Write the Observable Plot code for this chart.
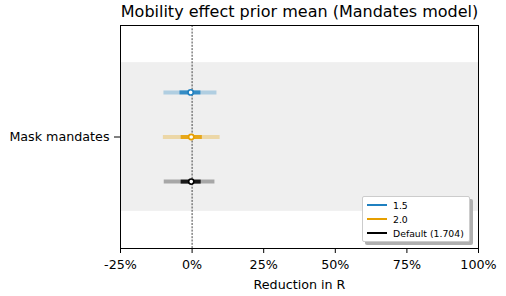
<!DOCTYPE html>
<html>
<head>
<meta charset="utf-8">
<script src="https://cdn.jsdelivr.net/npm/d3@7"></script>
<script src="https://cdn.jsdelivr.net/npm/@observablehq/plot@0.6"></script>
<style>
  html, body { margin: 0; padding: 0; background: #fff; }
  #wrap { position: relative; width: 506px; height: 296px; font-family: "DejaVu Sans", sans-serif; }
  #legend { position: absolute; left: 362px; top: 196px; width: 106px; height: 44px; background: #fff;
    border: 1px solid #ccc; border-radius: 2px; box-shadow: 3px 3px 0 #b0b0b0; font-size: 9.3px; color: #000; }
  .item { position: absolute; left: 4px; height: 12px; display: flex; align-items: center; white-space: nowrap; }
  .sw { display: inline-block; width: 20px; height: 1.5px; margin-right: 6px; }
</style>
</head>
<body>
<div id="wrap"><div id="legend"></div></div>
<script>
const title = "Mobility effect prior mean (Mandates model)";
const categories = ["Mask mandates"];
const series = ["1.5", "2.0", "Default (1.704)"];
const colors = ["#1f80c0", "#e69f00", "#000000"];
const medians = [-0.5, -0.3, -0.3];
const inner_lo = [-4.4, -4.0, -4.0];
const inner_hi = [2.9, 3.4, 3.0];
const outer_lo = [-10.0, -10.2, -9.9];
const outer_hi = [8.5, 9.6, 7.8];
const xTicks = [-25, 0, 25, 50, 75, 100];
const xLabel = "Reduction in R";

const rows = series.map((s, i) => ({
  s, c: colors[i], y: (i - 1) * 0.3,
  med: medians[i], ilo: inner_lo[i], ihi: inner_hi[i], olo: outer_lo[i], ohi: outer_hi[i]
}));

const plot = Plot.plot({
  width: 506, height: 296,
  marginLeft: 120, marginRight: 28, marginTop: 25, marginBottom: 48,
  style: { fontFamily: "DejaVu Sans, sans-serif", fontSize: "12.7px", color: "#000", background: "#fff" },
  x: { domain: [-25, 100], ticks: xTicks, tickFormat: d => d + "%", tickSize: 5, tickPadding: 6, label: null },
  y: { domain: [-0.75, 0.75], reverse: true, ticks: [0], tickFormat: d => categories[d], tickSize: 6, tickPadding: 5, label: null },
  marks: [
    Plot.rect([0], { y1: -0.5, y2: 0.5, fill: "#efefef" }),
    Plot.ruleX([0], { stroke: "#444", strokeDasharray: "2,1.3", strokeWidth: 1 }),
    Plot.link(rows, { x1: "olo", x2: "ohi", y1: "y", y2: "y", stroke: "c", strokeOpacity: 0.3, strokeWidth: 4 }),
    Plot.link(rows, { x1: "ilo", x2: "ihi", y1: "y", y2: "y", stroke: "c", strokeOpacity: 0.85, strokeWidth: 4 }),
    Plot.dot(rows, { x: "med", y: "y", r: 2.6, fill: "#fff", stroke: "c", strokeWidth: 1.6 }),
    Plot.frame({ stroke: "#000", strokeWidth: 1 }),
    Plot.text([title], { frameAnchor: "top", lineAnchor: "middle", dy: -14, fontSize: 16, fill: "#000" }),
    Plot.text([xLabel], { frameAnchor: "bottom", lineAnchor: "middle", dy: 36, fontSize: 12.7, fill: "#000" })
  ]
});
document.getElementById("wrap").prepend(plot);

const leg = document.getElementById("legend");
series.forEach((s, i) => {
  const d = document.createElement("div");
  d.className = "item";
  d.style.top = (2 + i * 14) + "px";
  const sw = document.createElement("span");
  sw.className = "sw";
  sw.style.background = colors[i];
  d.appendChild(sw);
  d.appendChild(document.createTextNode(s));
  leg.appendChild(d);
});
</script>
</body>
</html>
